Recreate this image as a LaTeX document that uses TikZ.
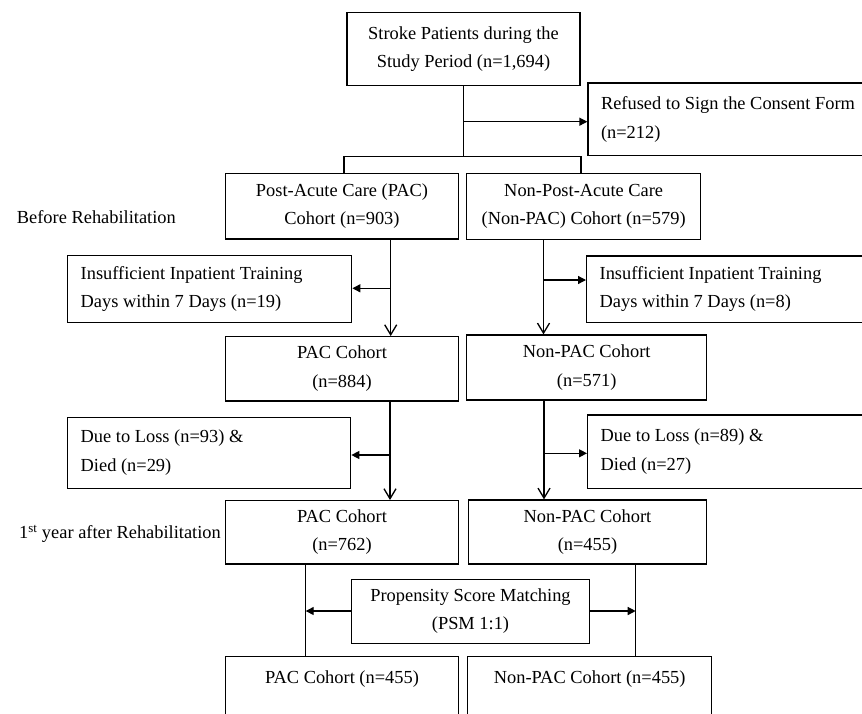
\documentclass[tikz,border=0pt]{standalone}
\usepackage{fontspec}
\setmainfont{Liberation Serif}
\usetikzlibrary{arrows.meta,calc}
\begin{document}
\begin{tikzpicture}[x=1pt,y=-1pt,
  every node/.style={font=\fontsize{18.4}{28.5}\selectfont},
  cbox/.style 2 args={draw, line width=1.3pt, align=center, inner sep=2pt, minimum width=#1, minimum height=#2},
  lbox/.style 2 args={draw, line width=1.3pt, align=flush left, inner xsep=13pt, inner ysep=2pt, text width=#1-26, minimum width=#1, minimum height=#2},
  tbox/.style={draw, line width=1.3pt, inner xsep=2pt, inner ysep=0pt, text height=27pt, text depth=70pt, minimum width=#1, anchor=north},
  line/.style={line width=1.3pt},
  tri/.style={line width=1.3pt, -{Triangle[length=8pt,width=8pt]}},
  barb/.style={line width=1.3pt, -{Straight Barb[length=10pt,width=12pt]}}
]
\useasboundingbox[fill=white] (0,0) rectangle (862,713);

\node[cbox={233}{73}] (top) at (463.5,49.2) {Stroke Patients during the\\Study Period (n=1,694)};
\node[lbox={292}{72.7}] (refused) at (734,119.3) {Refused to Sign the Consent Form\\(n=212)};
\node[cbox={232.6}{65.7}] (pac0) at (342,206.2) {Post-Acute Care (PAC)\\Cohort (n=903)};
\node[cbox={234}{66}] (npac0) at (583.7,206.3) {Non-Post-Acute Care\\(Non-PAC) Cohort (n=579)};
\node[lbox={284}{66.6}] (ins1) at (209.7,289) {Insufficient Inpatient Training\\Days within 7 Days (n=19)};
\node[lbox={293.3}{66.3}] (ins2) at (733.3,289.2) {Insufficient Inpatient Training\\Days within 7 Days (n=8)};
\node[cbox={232.6}{64.3}] (pac1) at (342,368.8) {PAC Cohort\\(n=884)};
\node[cbox={240}{65}] (npac1) at (586.7,367.5) {Non-PAC Cohort\\(n=571)};
\node[lbox={283}{71}] (loss1) at (209.2,452.8) {Due to Loss (n=93) \&\\Died (n=29)};
\node[lbox={292.3}{73.3}] (loss2) at (733.8,451.7) {Due to Loss (n=89) \&\\Died (n=27)};
\node[cbox={232.6}{63.3}] (pac2) at (342,532.3) {PAC Cohort\\(n=762)};
\node[cbox={238.4}{64}] (npac2) at (587.5,532) {Non-PAC Cohort\\(n=455)};
\node[cbox={237.6}{64}] (psm) at (470.5,611.3) {Propensity Score Matching\\(PSM 1:1)};
\node[tbox=232.6] (pac3) at (342,655.7) {PAC Cohort (n=455)};
\node[tbox=244] (npac3) at (589.7,655.7) {Non-PAC Cohort (n=455)};

\node[anchor=base west, inner sep=0pt] (before) at (16.7,223.3) {Before Rehabilitation};
\node[anchor=base east, inner sep=0pt] (first) at (221,538.3) {1\textsuperscript{st} year after Rehabilitation};

% top split
\coordinate (j0) at (463.5,121.7);
\coordinate (s0) at (463.5,156.7);
\coordinate (sl) at (344,156.7);
\coordinate (sr) at (581,156.7);
\draw[line] (top.south) -- (s0);
\draw[tri] (j0) -- (j0 -| refused.west);
\draw[line] (pac0.north -| sl) -- (sl) -- (sr) -- (npac0.north -| sr);

% first exclusion
\coordinate (b1) at (390.7,288.3);
\draw[barb] (pac0.south -| b1) -- (pac1.north -| b1);
\draw[tri] (b1) -- (b1 -| ins1.east);
\coordinate (b2) at (543.5,280);
\draw[barb] (npac0.south -| b2) -- (npac1.north -| b2);
\draw[tri] (b2) -- (b2 -| ins2.west);

% second exclusion
\coordinate (b3) at (390,455);
\draw[barb] (pac1.south -| b3) -- (pac2.north -| b3);
\draw[tri] (b3) -- (b3 -| loss1.east);
\coordinate (b4) at (544,453.3);
\draw[barb] (npac1.south -| b4) -- (npac2.north -| b4);
\draw[tri] (b4) -- (b4 -| loss2.west);

% PSM
\coordinate (b5) at (305.7,611);
\draw[line] (pac2.south -| b5) -- (pac3.north -| b5);
\draw[tri] (psm.west |- b5) -- (b5);
\coordinate (b6) at (635.7,611);
\draw[line] (npac2.south -| b6) -- (npac3.north -| b6);
\draw[tri] (psm.east |- b6) -- (b6);
\end{tikzpicture}
\end{document}
